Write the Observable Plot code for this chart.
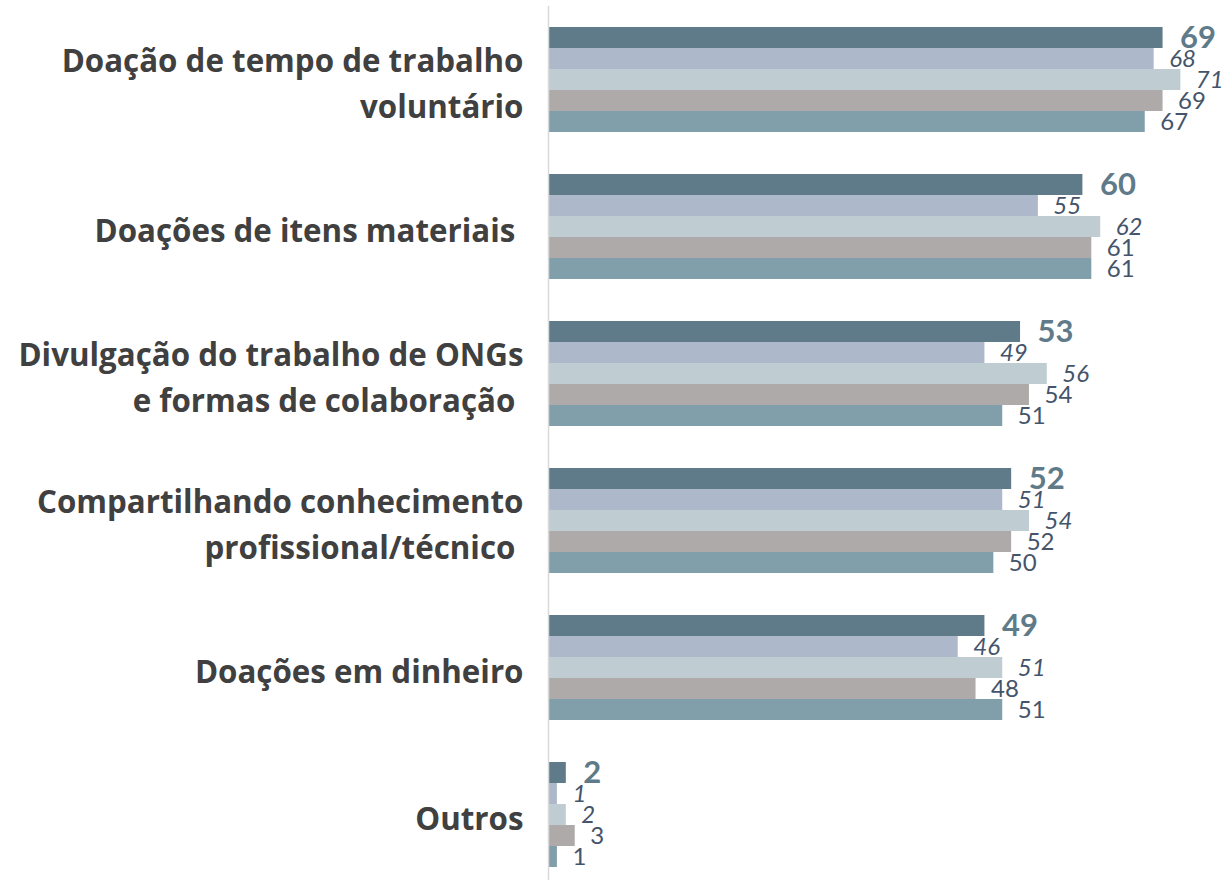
<!DOCTYPE html>
<html>
<head>
<meta charset="utf-8">
<script src="https://cdn.jsdelivr.net/npm/d3@7"></script>
<script src="https://cdn.jsdelivr.net/npm/@observablehq/plot@0.6"></script>
<style>
  html, body { margin: 0; padding: 0; background: #fff; }
  #chart svg { overflow: visible; }
</style>
</head>
<body>
<div id="chart"></div>
<script>
const categories = [
  "Doação de tempo de trabalho voluntário",
  "Doações de itens materiais",
  "Divulgação do trabalho de ONGs e formas de colaboração",
  "Compartilhando conhecimento profissional/técnico",
  "Doações em dinheiro",
  "Outros"
];
const categoryLabels = [
  "Doação de tempo de trabalho\nvoluntário",
  "Doações de itens materiais\u00a0",
  "Divulgação do trabalho de ONGs\ne formas de colaboração\u00a0",
  "Compartilhando conhecimento\nprofissional/técnico\u00a0",
  "Doações em dinheiro",
  "Outros"
];
const series = ["Série 1", "Série 2", "Série 3", "Série 4", "Série 5"];
const values1 = [69, 60, 53, 52, 49, 2];
const values2 = [68, 55, 49, 51, 46, 1];
const values3 = [71, 62, 56, 54, 51, 2];
const values4 = [69, 61, 54, 52, 48, 3];
const values5 = [67, 61, 51, 50, 51, 1];
const colors = ["#5f7b89", "#adb8cb", "#bfcdd2", "#aeaaaa", "#819fab"];

const allValues = [values1, values2, values3, values4, values5];
const rows = [];
categories.forEach((c, i) => {
  series.forEach((s, j) => {
    rows.push({category: c, series: s, si: j, value: allValues[j][i], key: `${c}|${s}`});
  });
});

// band domain: each group = spacer + 5 series + spacer
const keys = [];
categories.forEach((c, i) => {
  keys.push(`${c}|gapA`);
  series.forEach(s => keys.push(`${c}|${s}`));
  if (i < categories.length - 1) keys.push(`${c}|gapB`);
});

const labelColor = "#44546a";
const font = "Lato, 'Open Sans', sans-serif";

const chart = Plot.plot({
  width: 1227,
  height: 880,
  marginLeft: 548,
  marginRight: 11,
  marginTop: 6,
  marginBottom: 13,
  style: {fontFamily: font, background: "#fff"},
  x: {domain: [0, 75], axis: null},
  y: {domain: keys, padding: 0, axis: null},
  color: {domain: series, range: colors},
  marks: [
    Plot.barX(rows, {x: "value", y: "key", fill: "series"}),
    Plot.ruleX([0], {stroke: "#d9d9d9", strokeWidth: 1.5, insetBottom: -13}),
    Plot.text(rows.filter(d => d.si === 0), {
      x: "value", y: "key", text: d => String(d.value), dx: 17,
      textAnchor: "start", fontSize: 31, fontWeight: "bold", fill: colors[0]
    }),
    Plot.text(rows.filter(d => d.si === 1 || d.si === 2), {
      x: "value", y: "key", text: d => String(d.value), dx: 15,
      textAnchor: "start", fontSize: 24, fontStyle: "italic", fill: labelColor
    }),
    Plot.text(rows.filter(d => d.si >= 3), {
      x: "value", y: "key", text: d => String(d.value), dx: 15,
      textAnchor: "start", fontSize: 24, fill: labelColor
    }),
    Plot.text(categories, {
      y: c => `${c}|${series[2]}`,
      text: (c, i) => categoryLabels[i],
      frameAnchor: "left", dx: -25, textAnchor: "end", lineAnchor: "middle",
      fontFamily: "'Open Sans', sans-serif",
      fontSize: 31.3, fontWeight: "bold", fill: "#404040", lineHeight: 46 / 31.3
    })
  ]
});
document.getElementById("chart").appendChild(chart);
</script>
</body>
</html>
